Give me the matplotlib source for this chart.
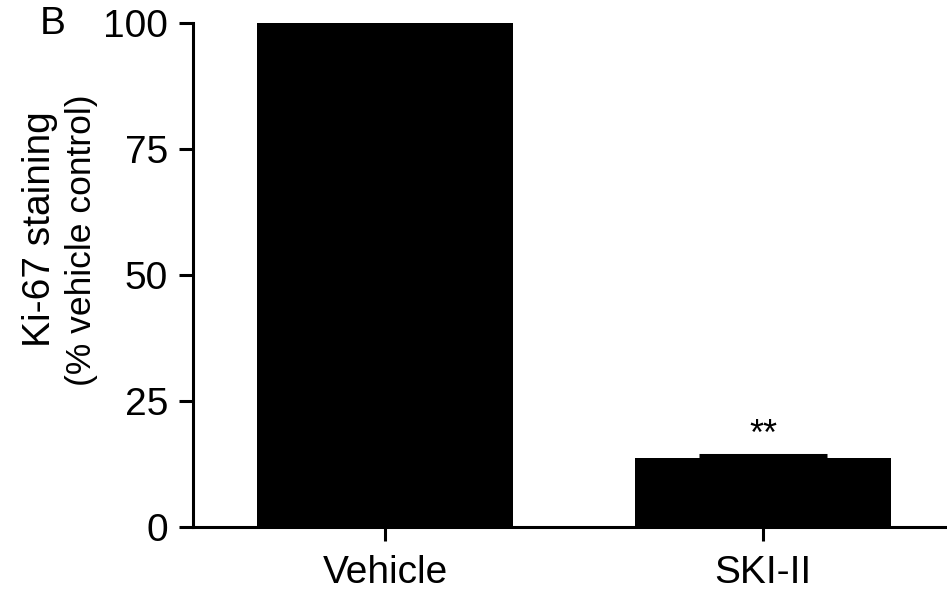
import matplotlib
matplotlib.use("Agg")
import matplotlib.pyplot as plt

categories = ["Vehicle", "SKI-II"]
values = [100.0, 13.7]
errors = [0.0, 0.6]
yticks = [0, 25, 50, 75, 100]
ylabel_lines = ["Ki-67 staining", "(% vehicle control)"]

plt.rcParams['font.family'] = ['Liberation Sans', 'DejaVu Sans']

fig = plt.figure(figsize=(9.47, 5.95), dpi=100)
ax = fig.add_axes([193/947, 68/595, 1 - 193/947, (527-23)/595])

x = list(range(len(categories)))
ax.bar(x, values, width=0.677, color='black', edgecolor='black', linewidth=0, zorder=2)
ax.errorbar(x[1:], values[1:], yerr=[[0], errors[1:]], fmt='none', ecolor='black',
            elinewidth=2.2, capsize=46, capthick=2.2, zorder=3)
ax.text(x[1], values[1] + errors[1] + 0.3, "**", ha='center', va='bottom', fontsize=26)

ax.set_xlim(-0.508, 1.487)
ax.set_ylim(0, 100)
ax.set_yticks(yticks)
ax.set_xticks(x)
ax.set_xticklabels(categories)
ax.tick_params(axis='y', labelsize=28, width=2.2, length=10, pad=8)
ax.tick_params(axis='x', labelsize=28, width=2.2, length=10, pad=10)
ax.spines['top'].set_visible(False)
ax.spines['right'].set_visible(False)
for s in ['left', 'bottom']:
    ax.spines[s].set_linewidth(2.2)
    ax.spines[s].set_zorder(4)

fig.text(50/947, 1 - 229/595, ylabel_lines[0], fontsize=28, rotation=90,
         rotation_mode='anchor', ha='center', va='baseline')
fig.text(91/947, 1 - 240/595, ylabel_lines[1], fontsize=25.5, rotation=90,
         rotation_mode='anchor', ha='center', va='baseline')

fig.text(40/947, 1 - 24/595, "B", fontsize=28, ha='left', va='center')

fig.savefig("out.png", dpi=100)
